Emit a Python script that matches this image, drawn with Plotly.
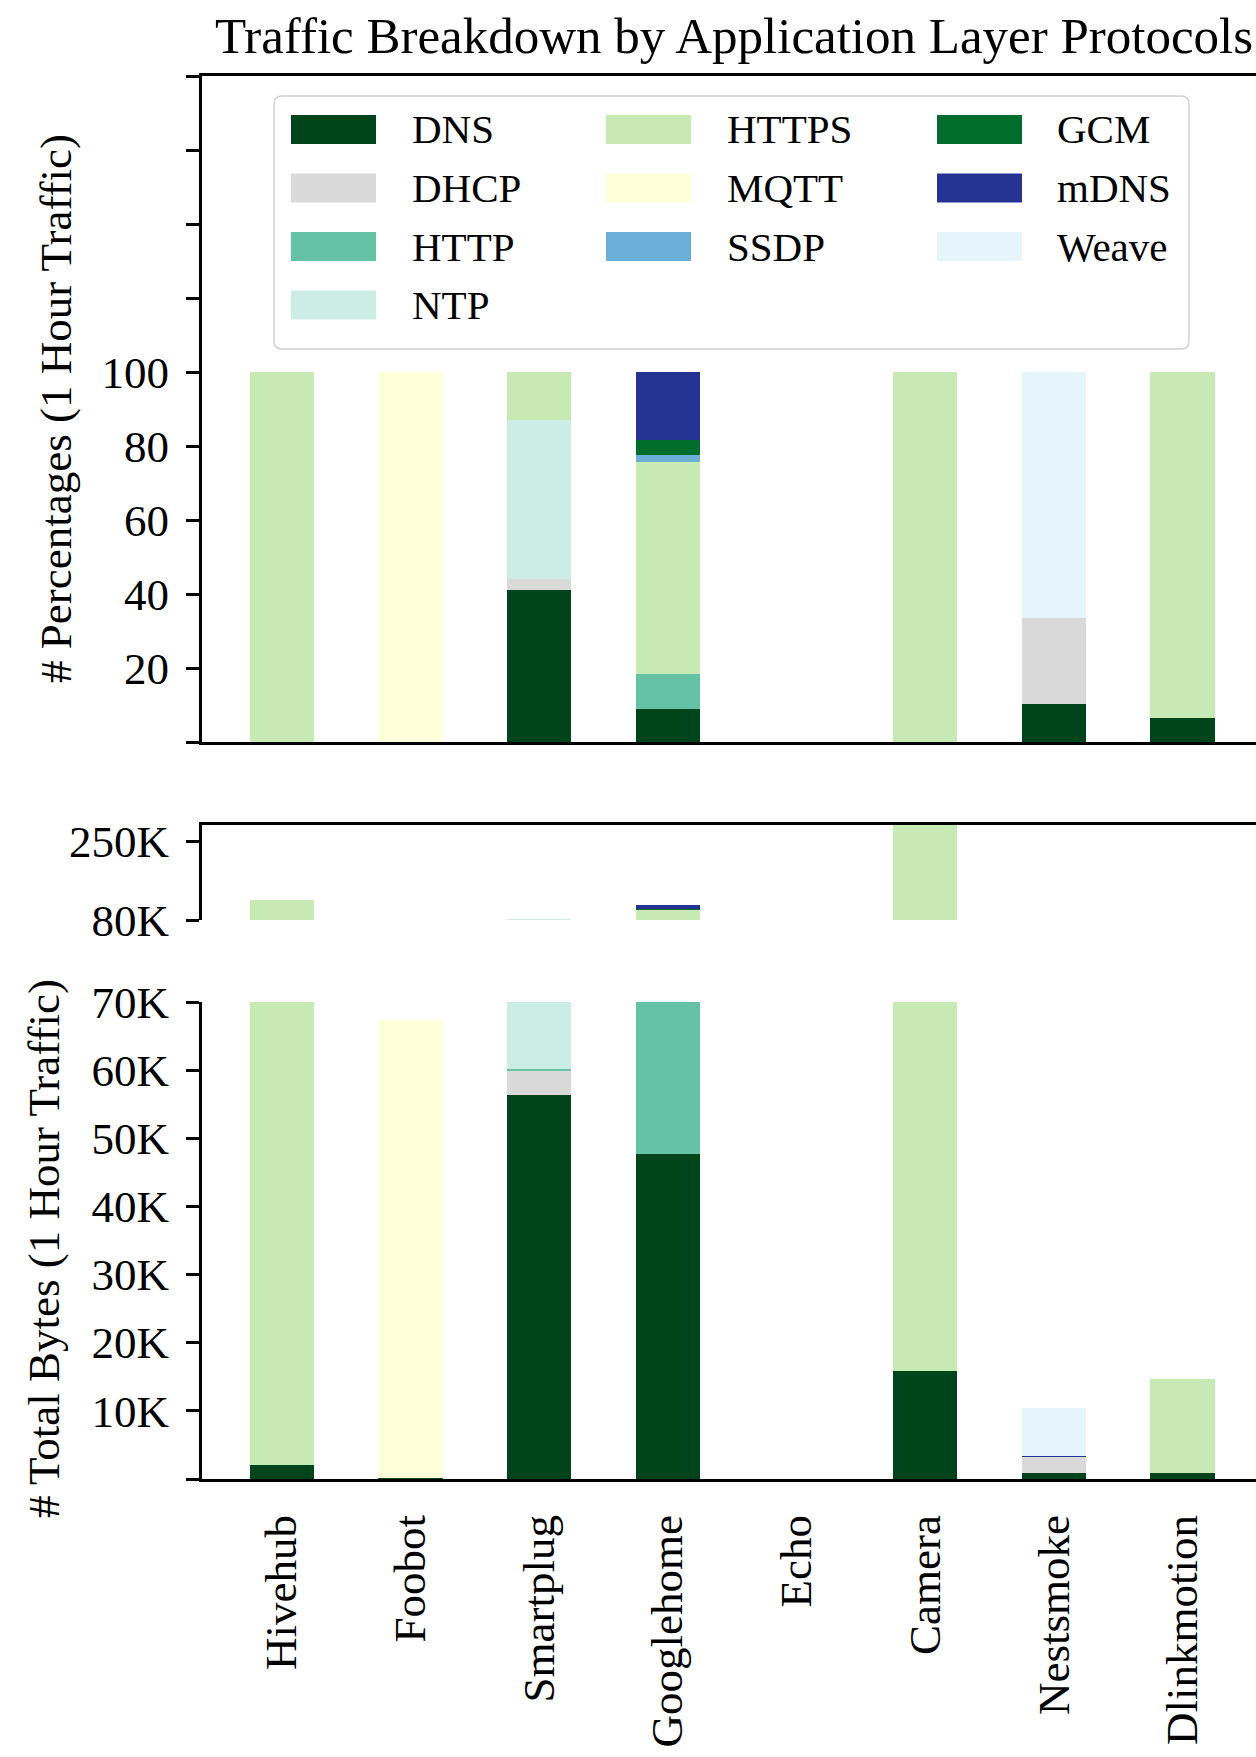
import plotly.graph_objects as go

# ---------------- data ----------------
devices = ["Hivehub", "Foobot", "Smartplug", "Googlehome", "Echo", "Camera", "Nestsmoke", "Dlinkmotion"]
protocols = ["DNS", "DHCP", "HTTP", "NTP", "HTTPS", "MQTT", "SSDP", "GCM", "mDNS", "Weave"]
colors = ["#00441b", "#d9d9d9", "#66c2a5", "#ccece6", "#c7e9b4", "#ffffd9", "#6baed6", "#006d2c", "#253494", "#e5f5f9"]

# percentages (top panel)
pct_dns   = [0, 0, 41.2, 8.9, 0, 0, 10.2, 6.5]
pct_dhcp  = [0, 0, 2.8, 0, 0, 0, 23.2, 0]
pct_http  = [0, 0, 0, 9.6, 0, 0, 0, 0]
pct_ntp   = [0, 0, 43.0, 0, 0, 0, 0, 0]
pct_https = [100, 0, 13.0, 57.2, 0, 100, 0, 93.5]
pct_mqtt  = [0, 100, 0, 0, 0, 0, 0, 0]
pct_ssdp  = [0, 0, 0, 1.9, 0, 0, 0, 0]
pct_gcm   = [0, 0, 0, 4.0, 0, 0, 0, 0]
pct_mdns  = [0, 0, 0, 18.4, 0, 0, 0, 0]
pct_weave = [0, 0, 0, 0, 0, 0, 66.6, 0]

# total bytes (bottom panel, broken axis)
bytes_dns   = [2100, 200, 56300, 47700, 0, 15900, 830, 830]
bytes_dhcp  = [0, 0, 3700, 0, 0, 0, 2400, 0]
bytes_http  = [0, 0, 200, 33300, 0, 0, 0, 0]
bytes_ntp   = [0, 0, 22800, 0, 0, 0, 0, 0]
bytes_https = [122000, 0, 0, 20600, 0, 290000, 0, 13900]
bytes_mqtt  = [0, 67200, 0, 0, 0, 0, 0, 0]
bytes_ssdp  = [0, 0, 0, 1000, 0, 0, 0, 0]
bytes_gcm   = [0, 0, 0, 500, 0, 0, 0, 0]
bytes_mdns  = [0, 0, 0, 10000, 0, 0, 170, 0]
bytes_weave = [0, 0, 0, 0, 0, 0, 7000, 0]

pct_series = [pct_dns, pct_dhcp, pct_http, pct_ntp, pct_https, pct_mqtt, pct_ssdp, pct_gcm, pct_mdns, pct_weave]
bytes_series = [bytes_dns, bytes_dhcp, bytes_http, bytes_ntp, bytes_https, bytes_mqtt, bytes_ssdp, bytes_gcm, bytes_mdns, bytes_weave]

pct_ticks = [0, 20, 40, 60, 80, 100, 120, 140, 160, 180]
pct_ticktext = ["", "20", "40", "60", "80", "100", "", "", "", ""]
hi_ticks = [80000, 250000]
hi_ticktext = ["80K", "250K"]
lo_ticks = [0, 10000, 20000, 30000, 40000, 50000, 60000, 70000]
lo_ticktext = ["", "10K", "20K", "30K", "40K", "50K", "60K", "70K"]

# legend layout: column-major, 3 columns
legend_cols = [["DNS", "DHCP", "HTTP", "NTP"], ["HTTPS", "MQTT", "SSDP"], ["GCM", "mDNS", "Weave"]]

# ---------------- figure ----------------
W, H = 1256, 1757
FONT = "Liberation Serif"

def px(x):
    return x / W

def py(y):
    return 1 - y / H

fig = go.Figure()
for name, col, pv, bv in zip(protocols, colors, pct_series, bytes_series):
    common = dict(name=name, marker=dict(color=col, line=dict(width=0)), width=0.5, showlegend=False)
    fig.add_trace(go.Bar(x=devices, y=pv, xaxis="x", yaxis="y", **common))
    fig.add_trace(go.Bar(x=devices, y=bv, xaxis="x2", yaxis="y2", **common))
    fig.add_trace(go.Bar(x=devices, y=bv, xaxis="x3", yaxis="y3", **common))

xdom = [px(202), 1.0]
xr = [-0.62, 7.57]
axis_line = dict(showline=True, linewidth=3, linecolor="black", showgrid=False, zeroline=False,
                 automargin=False)
yticks = dict(ticks="outside", ticklen=13, tickwidth=2.5, tickcolor="black",
              tickfont=dict(family=FONT, size=45, color="black"), ticklabelstandoff=8)

fig.update_layout(
    width=W, height=H,
    margin=dict(l=0, r=0, t=0, b=0, pad=0, autoexpand=False),
    paper_bgcolor="white", plot_bgcolor="white",
    barmode="stack",
    showlegend=False,
    font=dict(family=FONT, color="black"),
    title=dict(text="Traffic Breakdown by Application Layer Protocols", x=px(734), xref="paper",
               y=py(35), yref="paper", xanchor="center", yanchor="middle", automargin=False,
               font=dict(family=FONT, size=51, color="black")),
    xaxis=dict(domain=xdom, anchor="y", range=xr, type="category", showticklabels=False, ticks="",
               mirror=True, **axis_line),
    yaxis=dict(domain=[py(742), py(76)], anchor="x", range=[0, 180], tickvals=pct_ticks,
               ticktext=pct_ticktext, **axis_line, **yticks),
    xaxis2=dict(domain=xdom, anchor="y2", range=xr, type="category", showticklabels=False, ticks="",
                side="top", **axis_line),
    yaxis2=dict(domain=[py(920), py(825)], anchor="x2", range=[80000, 285000], tickvals=hi_ticks,
                ticktext=hi_ticktext, **axis_line, **yticks),
    xaxis3=dict(domain=xdom, anchor="y3", range=xr, type="category", ticks="", tickangle=-90,
                tickfont=dict(family=FONT, size=45, color="black"), ticklabelstandoff=15, **axis_line),
    yaxis3=dict(domain=[py(1479), py(1002)], anchor="x3", range=[0, 70000], tickvals=lo_ticks,
                ticktext=lo_ticktext, **axis_line, **yticks),
)

# axis titles
fig.add_annotation(text="# Percentages (1 Hour Traffic)", textangle=-90, x=px(56), y=py(409),
                   xref="paper", yref="paper", xanchor="center", yanchor="middle", showarrow=False,
                   font=dict(family=FONT, size=45, color="black"))
fig.add_annotation(text="# Total Bytes (1 Hour Traffic)", textangle=-90, x=px(44), y=py(1249),
                   xref="paper", yref="paper", xanchor="center", yanchor="middle", showarrow=False,
                   font=dict(family=FONT, size=45, color="black"))

# legend (matplotlib-style, column-major)
bx0, bx1, by0, by1, r = 274, 1189, 96, 349, 8
rx, ry = r / W, r / H
X0, X1, Y0, Y1 = px(bx0), px(bx1), py(by0), py(by1)
path = (f"M{X0+rx},{Y0} L{X1-rx},{Y0} Q{X1},{Y0} {X1},{Y0-ry} L{X1},{Y1+ry} Q{X1},{Y1} {X1-rx},{Y1} "
        f"L{X0+rx},{Y1} Q{X0},{Y1} {X0},{Y1+ry} L{X0},{Y0-ry} Q{X0},{Y0} {X0+rx},{Y0} Z")
fig.add_shape(type="path", path=path, xref="paper", yref="paper",
              line=dict(color="#d0d0d0", width=1.5), fillcolor="rgba(255,255,255,0.8)", layer="above")

sw_left = [291, 606, 937]
txt_left = [410, 725, 1055]
row_y = [129.4, 188, 246.5, 305]
sw_w, sw_h = 85, 29
color_of = dict(zip(protocols, colors))
for ci, names in enumerate(legend_cols):
    for ri, nm in enumerate(names):
        cy = row_y[ri]
        fig.add_shape(type="rect", xref="paper", yref="paper",
                      x0=px(sw_left[ci]), x1=px(sw_left[ci] + sw_w),
                      y0=py(cy + sw_h / 2), y1=py(cy - sw_h / 2),
                      fillcolor=color_of[nm], line=dict(width=0), layer="above")
        fig.add_annotation(text=nm, x=px(txt_left[ci]), y=py(cy), xref="paper", yref="paper",
                           xanchor="left", yanchor="middle", showarrow=False,
                           font=dict(family=FONT, size=41, color="black"))

fig.write_html("out.html")
